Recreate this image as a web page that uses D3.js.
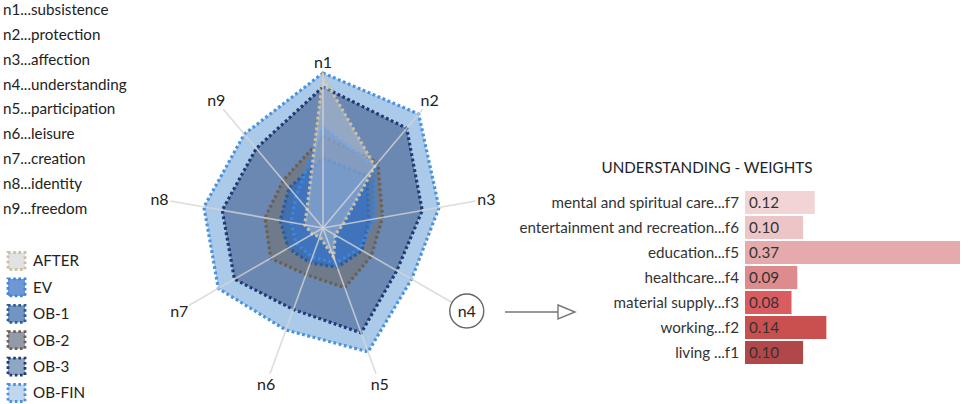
<!DOCTYPE html>
<html>
<head>
<meta charset="utf-8">
<script src="https://cdn.jsdelivr.net/npm/d3@7"></script>
<style>
  body { margin: 0; background: #fff; }
  svg { font-family: Lato, "Open Sans", sans-serif; }
</style>
</head>
<body>
<div id="chart"></div>
<script>
// needs (radar axes)
const needs = ["n1", "n2", "n3", "n4", "n5", "n6", "n7", "n8", "n9"]
const needNames = ["subsistence", "protection", "affection", "understanding", "participation",
                   "leisure", "creation", "identity", "freedom"]

// radar series, values per need n1..n9
const seriesNames = ["AFTER", "EV", "OB-1", "OB-2", "OB-3", "OB-FIN"]
const after = [0.98, 0.52, 0.13, 0.09, 0.20, 0.06, 0.08, 0.12, 0.16]
const ev    = [0.65, 0.52, 0.34, 0.27, 0.24, 0.20, 0.20, 0.21, 0.27]
const ob1   = [0.45, 0.44, 0.30, 0.29, 0.27, 0.24, 0.26, 0.28, 0.34]
const ob2   = [0.59, 0.55, 0.39, 0.36, 0.41, 0.32, 0.39, 0.38, 0.40]
const ob3   = [0.91, 0.84, 0.65, 0.55, 0.72, 0.56, 0.66, 0.66, 0.67]
const obFin = [1.00, 0.96, 0.76, 0.66, 0.85, 0.70, 0.78, 0.78, 0.79]

// weights for n4
const chartTitle = "UNDERSTANDING - WEIGHTS"
const factorLabels = ["mental and spiritual care...f7", "entertainment and recreation...f6", "education...f5",
                      "healthcare...f4", "material supply...f3", "working...f2", "living ...f1"]
const weights = [0.12, 0.10, 0.37, 0.09, 0.08, 0.14, 0.10]

const W = 969, H = 404
const svg = d3.select("#chart").append("svg").attr("width", W).attr("height", H)

// styles for each series
const styles = {
  "OB-FIN": { fill: "#abcaea", stroke: "#4b93dc", op: 1 },
  "OB-3":   { fill: "#6b88b2", stroke: "#1f3b72", op: 1 },
  "OB-2":   { fill: "#6f7a8b", stroke: "#6b6053", op: 1 },
  "OB-1":   { fill: "#4270ae", stroke: "#2a5c9c", op: 1 },
  "EV":     { fill: "#3d74c4", stroke: "#3d85e2", op: 0.6 },
  "AFTER":  { fill: "#e2e2e2", stroke: "#cbbfa6", op: 0.35 }
}
const seriesData = { "AFTER": after, "EV": ev, "OB-1": ob1, "OB-2": ob2, "OB-3": ob3, "OB-FIN": obFin }
const fontSize = 15.2

// ---- list of needs, top left
svg.append("g").selectAll("text")
  .data(needs)
  .enter().append("text")
  .attr("x", 3)
  .attr("y", (d, i) => 9.5 + i * 24.9)
  .attr("dy", "0.35em")
  .attr("font-size", fontSize)
  .attr("fill", "#222")
  .text((d, i) => d + "..." + needNames[i])

// ---- legend
const legend = svg.append("g").selectAll("g")
  .data(seriesNames)
  .enter().append("g")
  .attr("transform", (d, i) => "translate(0," + (261 + i * 26.4) + ")")
legend.append("rect")
  .attr("x", 8).attr("y", -8.5).attr("width", 17).attr("height", 17)
  .attr("fill", d => styles[d].fill)
  .attr("fill-opacity", d => d === "AFTER" ? 1 : 0.75)
  .attr("stroke", d => styles[d].stroke)
  .attr("stroke-width", 2.8)
  .attr("stroke-dasharray", "2.6 2.6")
legend.append("text")
  .attr("x", 33).attr("dy", "0.35em")
  .attr("font-size", fontSize).attr("fill", "#222")
  .text(d => d)

// ---- radar
const cx = 323, cy = 228
const rScale = d3.scaleLinear().domain([0, 1]).range([0, 155])
const angle = i => i * 2 * Math.PI / needs.length
const radial = d3.lineRadial()
  .angle((d, i) => angle(i))
  .radius(d => rScale(d))
  .curve(d3.curveLinearClosed)

const radar = svg.append("g").attr("transform", "translate(" + cx + "," + cy + ")")
const drawOrder = ["OB-FIN", "OB-3", "OB-2", "OB-1", "EV", "AFTER"]
radar.selectAll("path.series")
  .data(drawOrder)
  .enter().append("path")
  .attr("class", "series")
  .attr("d", d => radial(seriesData[d]))
  .attr("fill", d => styles[d].fill)
  .attr("fill-opacity", d => styles[d].op)
  .attr("stroke", d => styles[d].stroke)
  .attr("stroke-width", 3.2)
  .attr("stroke-dasharray", "2.8 2.6")

// spokes
radar.selectAll("line.spoke")
  .data(needs)
  .enter().append("line")
  .attr("class", "spoke")
  .attr("x1", 0).attr("y1", 0)
  .attr("x2", (d, i) => rScale(1) * Math.sin(angle(i)))
  .attr("y2", (d, i) => -rScale(1) * Math.cos(angle(i)))
  .attr("stroke", "#d4d4d4")
  .attr("stroke-opacity", 0.8)
  .attr("stroke-width", 1.6)

// axis labels
const labelR = 166
const labels = radar.selectAll("g.lab")
  .data(needs)
  .enter().append("g")
  .attr("class", "lab")
  .attr("transform", (d, i) => "translate(" + (labelR * Math.sin(angle(i))) + "," + (-labelR * Math.cos(angle(i))) + ")")
labels.filter(d => d === "n4").append("circle")
  .attr("r", 17).attr("fill", "#fff").attr("stroke", "#666").attr("stroke-width", 1.4)
labels.append("text")
  .attr("text-anchor", "middle").attr("dy", "0.35em")
  .attr("font-size", 16).attr("fill", "#222")
  .text(d => d)

// arrow from n4 to the weights
const arrow = svg.append("g").attr("stroke", "#777").attr("stroke-width", 1.4)
arrow.append("line").attr("x1", 505).attr("y1", 312).attr("x2", 558).attr("y2", 312)
arrow.append("path").attr("d", "M558,305L575,312L558,319Z").attr("fill", "#fff")

// ---- weights bars
const x = d3.scaleLinear().domain([0, 0.37]).range([745, 960])
const y = d3.scaleBand().domain(factorLabels).range([190, 365]).paddingInner(0.08).paddingOuter(0.04)
const barColors = ["#f3d4d5", "#eec5c6", "#e6aaac", "#dd8b8d", "#db5c60", "#c9504f", "#b2474a"]

svg.append("text")
  .attr("x", 707).attr("y", 168).attr("dy", "0.35em")
  .attr("text-anchor", "middle").attr("font-size", fontSize).attr("fill", "#222")
  .text(chartTitle)

svg.append("g").selectAll("rect")
  .data(weights)
  .enter().append("rect")
  .attr("x", x(0))
  .attr("y", (d, i) => y(factorLabels[i]))
  .attr("width", d => x(d) - x(0))
  .attr("height", y.bandwidth())
  .attr("fill", (d, i) => barColors[i])

svg.append("g").selectAll("text")
  .data(weights)
  .enter().append("text")
  .attr("x", x(0) + 4)
  .attr("y", (d, i) => y(factorLabels[i]) + y.bandwidth() / 2)
  .attr("dy", "0.35em")
  .attr("font-size", fontSize).attr("fill", "#333")
  .text(d => d.toFixed(2))

svg.append("g").selectAll("text")
  .data(factorLabels)
  .enter().append("text")
  .attr("x", 739)
  .attr("y", d => y(d) + y.bandwidth() / 2)
  .attr("dy", "0.35em")
  .attr("text-anchor", "end")
  .attr("font-size", fontSize).attr("fill", "#333")
  .text(d => d)
</script>
</body>
</html>
